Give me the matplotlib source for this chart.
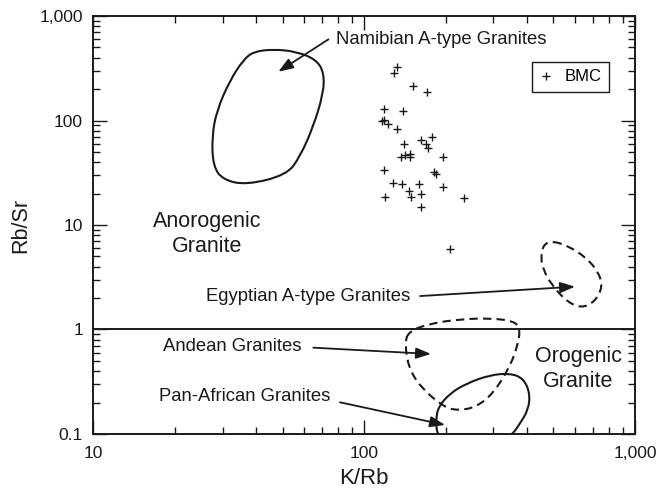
import numpy as np
import matplotlib
matplotlib.use("Agg")
import matplotlib.pyplot as plt
from matplotlib.path import Path
from matplotlib.patches import PathPatch
from matplotlib.ticker import LogLocator, NullFormatter

plt.rcParams['font.family'] = ['Liberation Sans', 'DejaVu Sans']

# BMC samples
kr_bmc = [131.9, 128.9, 151.9, 171.0, 118.4, 139.5, 116.7, 118.7, 122.2, 131.9,
          178.0, 162.5, 168.7, 171.7, 140.6, 147.6, 141.5, 136.8, 147.6, 196.0,
          118.7, 181.5, 184.0, 128.2, 138.3, 159.4, 196.0, 146.4, 119.4, 148.9,
          162.5, 234.4, 161.7, 207.5]
rbsr_bmc = [323, 283, 215, 189, 129, 123, 99.5, 101, 92.0, 82.4,
            69.1, 65.1, 59.2, 54.2, 59.2, 47.8, 46.8, 44.5, 44.5, 44.5,
            33.6, 32.4, 30.6, 25.4, 24.5, 24.6, 23.3, 21.3, 18.4, 18.5,
            19.8, 18.0, 14.8, 5.85]

# field outlines (K/Rb, Rb/Sr)
namibia_x = [39.0, 46.2, 56.4, 66.8, 71.1, 70.7, 64.9, 58.0, 51.8, 36.8, 30.2, 27.7, 27.4, 28.6, 32.0, 35.8]
namibia_y = [456, 481, 456, 380, 283, 182, 87.5, 45.2, 30.2, 24.2, 27.0, 36.2, 70.2, 126, 244, 380]

andean_x = [145.5, 175, 232.3, 291.5, 355.4, 376.2, 370.8, 345.6, 299.9, 260.3, 222.7, 196, 160.8, 145.5, 141.5]
andean_y = [0.953, 1.146, 1.26, 1.28, 1.21, 1.03, 0.738, 0.441, 0.245, 0.182, 0.167, 0.182, 0.284, 0.441, 0.738]

panafr_x = [184, 187.8, 207.5, 239, 291.5, 345.6, 387, 409.6, 403.6, 376.2, 355.4, 317.5, 246, 198.9, 185.8]
panafr_y = [0.136, 0.182, 0.245, 0.305, 0.367, 0.381, 0.341, 0.245, 0.170, 0.1265, 0.1016, 0.0785, 0.071, 0.0838, 0.1]

egypt_x = [492.6, 458.6, 448.7, 458.6, 492.6, 559.5, 635.5, 711.5, 760, 732, 663.3, 575.4]
egypt_y = [7.08, 6.44, 4.98, 3.71, 2.67, 1.85, 1.60, 1.85, 2.57, 3.57, 4.80, 6.20]

x_ticks = [10, 100, 1000]
x_tick_labels = ['10', '100', '1,000']
y_ticks = [0.1, 1, 10, 100, 1000]
y_tick_labels = ['0.1', '1', '10', '100', '1,000']


def smooth_loop(xs, ys):
    # closed quadratic bezier through the outline points (midpoints taken in log space)
    lx, ly = np.log10(xs), np.log10(ys)
    mx = (lx + np.roll(lx, -1)) / 2
    my = (ly + np.roll(ly, -1)) / 2
    verts = [(mx[-1], my[-1])]
    codes = [Path.MOVETO]
    for i in range(len(lx)):
        verts += [(lx[i], ly[i]), (mx[i], my[i])]
        codes += [Path.CURVE3, Path.CURVE3]
    return Path(10 ** np.array(verts), codes)


fig = plt.figure(figsize=(6.59, 4.93), dpi=100)
ax = fig.add_axes([0.1416, 0.1197, 0.8220, 0.8478])
ax.set_xscale('log')
ax.set_yscale('log')
ax.set_xlim(10, 1000)
ax.set_ylim(0.1, 1000)

ink = '#1a1a1a'
dash = (0, (4, 2.5))
ax.add_patch(PathPatch(smooth_loop(namibia_x, namibia_y), fill=False, ec=ink, lw=1.5))
ax.add_patch(PathPatch(smooth_loop(panafr_x, panafr_y), fill=False, ec=ink, lw=1.5))
ax.add_patch(PathPatch(smooth_loop(andean_x, andean_y), fill=False, ec=ink, lw=1.5, ls=dash))
ax.add_patch(PathPatch(smooth_loop(egypt_x, egypt_y), fill=False, ec=ink, lw=1.5, ls=dash))

ax.axhline(1, color=ink, lw=1.4)

ax.plot(kr_bmc, rbsr_bmc, ls='none', marker='+', ms=6, mew=1.0, color=ink, label='BMC')

arrow = dict(arrowstyle='-|>,head_length=0.6,head_width=0.22', color=ink, lw=1.3,
             mutation_scale=15, shrinkA=0, shrinkB=0)
fs = 13.3
ax.annotate('', xy=(48.2, 293), xytext=(73.8, 598), arrowprops=arrow)
ax.text(78.7, 600, 'Namibian A-type Granites', fontsize=fs, color=ink, ha='left', va='center')

ax.annotate('', xy=(600.5, 2.57), xytext=(160.8, 2.09), arrowprops=arrow)
ax.text(147.6, 2.09, 'Egyptian A-type Granites', fontsize=fs, color=ink, ha='right', va='center')

ax.annotate('', xy=(176.5, 0.583), xytext=(64.9, 0.67), arrowprops=arrow)
ax.text(58.8, 0.695, 'Andean Granites', fontsize=fs, color=ink, ha='right', va='center')

ax.annotate('', xy=(198.9, 0.122), xytext=(81.4, 0.201), arrowprops=arrow)
ax.text(74.8, 0.227, 'Pan-African Granites', fontsize=fs, color=ink, ha='right', va='center')

# field names
ax.text(26.3, 8.2, 'Anorogenic\nGranite', fontsize=15.5, color=ink, ha='center', va='center',
        linespacing=1.2)
ax.text(616, 0.419, 'Orogenic\nGranite', fontsize=15.5, color=ink, ha='center', va='center',
        linespacing=1.2)

# axes, ticks
for s in ax.spines.values():
    s.set_linewidth(1.4)
    s.set_color(ink)
ax.set_xticks(x_ticks)
ax.set_xticklabels(x_tick_labels)
ax.set_yticks(y_ticks)
ax.set_yticklabels(y_tick_labels)
ax.xaxis.set_minor_locator(LogLocator(base=10, subs=np.arange(2, 10)))
ax.yaxis.set_minor_locator(LogLocator(base=10, subs=np.arange(2, 10)))
ax.xaxis.set_minor_formatter(NullFormatter())
ax.yaxis.set_minor_formatter(NullFormatter())
ax.tick_params(which='both', direction='in', top=True, right=True, color=ink, width=1.0,
               labelsize=12.6, labelcolor=ink)
ax.tick_params(which='major', length=10)
ax.tick_params(which='minor', length=5)
ax.tick_params(axis='x', pad=9)
ax.tick_params(axis='y', pad=7.5)

ax.set_xlabel('K/Rb', fontsize=16, color=ink, labelpad=5)
ax.set_ylabel('Rb/Sr', fontsize=15.5, color=ink, labelpad=6)

leg = ax.legend(loc='upper right', bbox_to_anchor=(0.952, 0.890), borderaxespad=0,
                fontsize=12, fancybox=False, edgecolor=ink, framealpha=1,
                handlelength=0.8, borderpad=0.45, handletextpad=0.7)
leg.get_frame().set_linewidth(1.0)

fig.savefig('out.png', dpi=100)
